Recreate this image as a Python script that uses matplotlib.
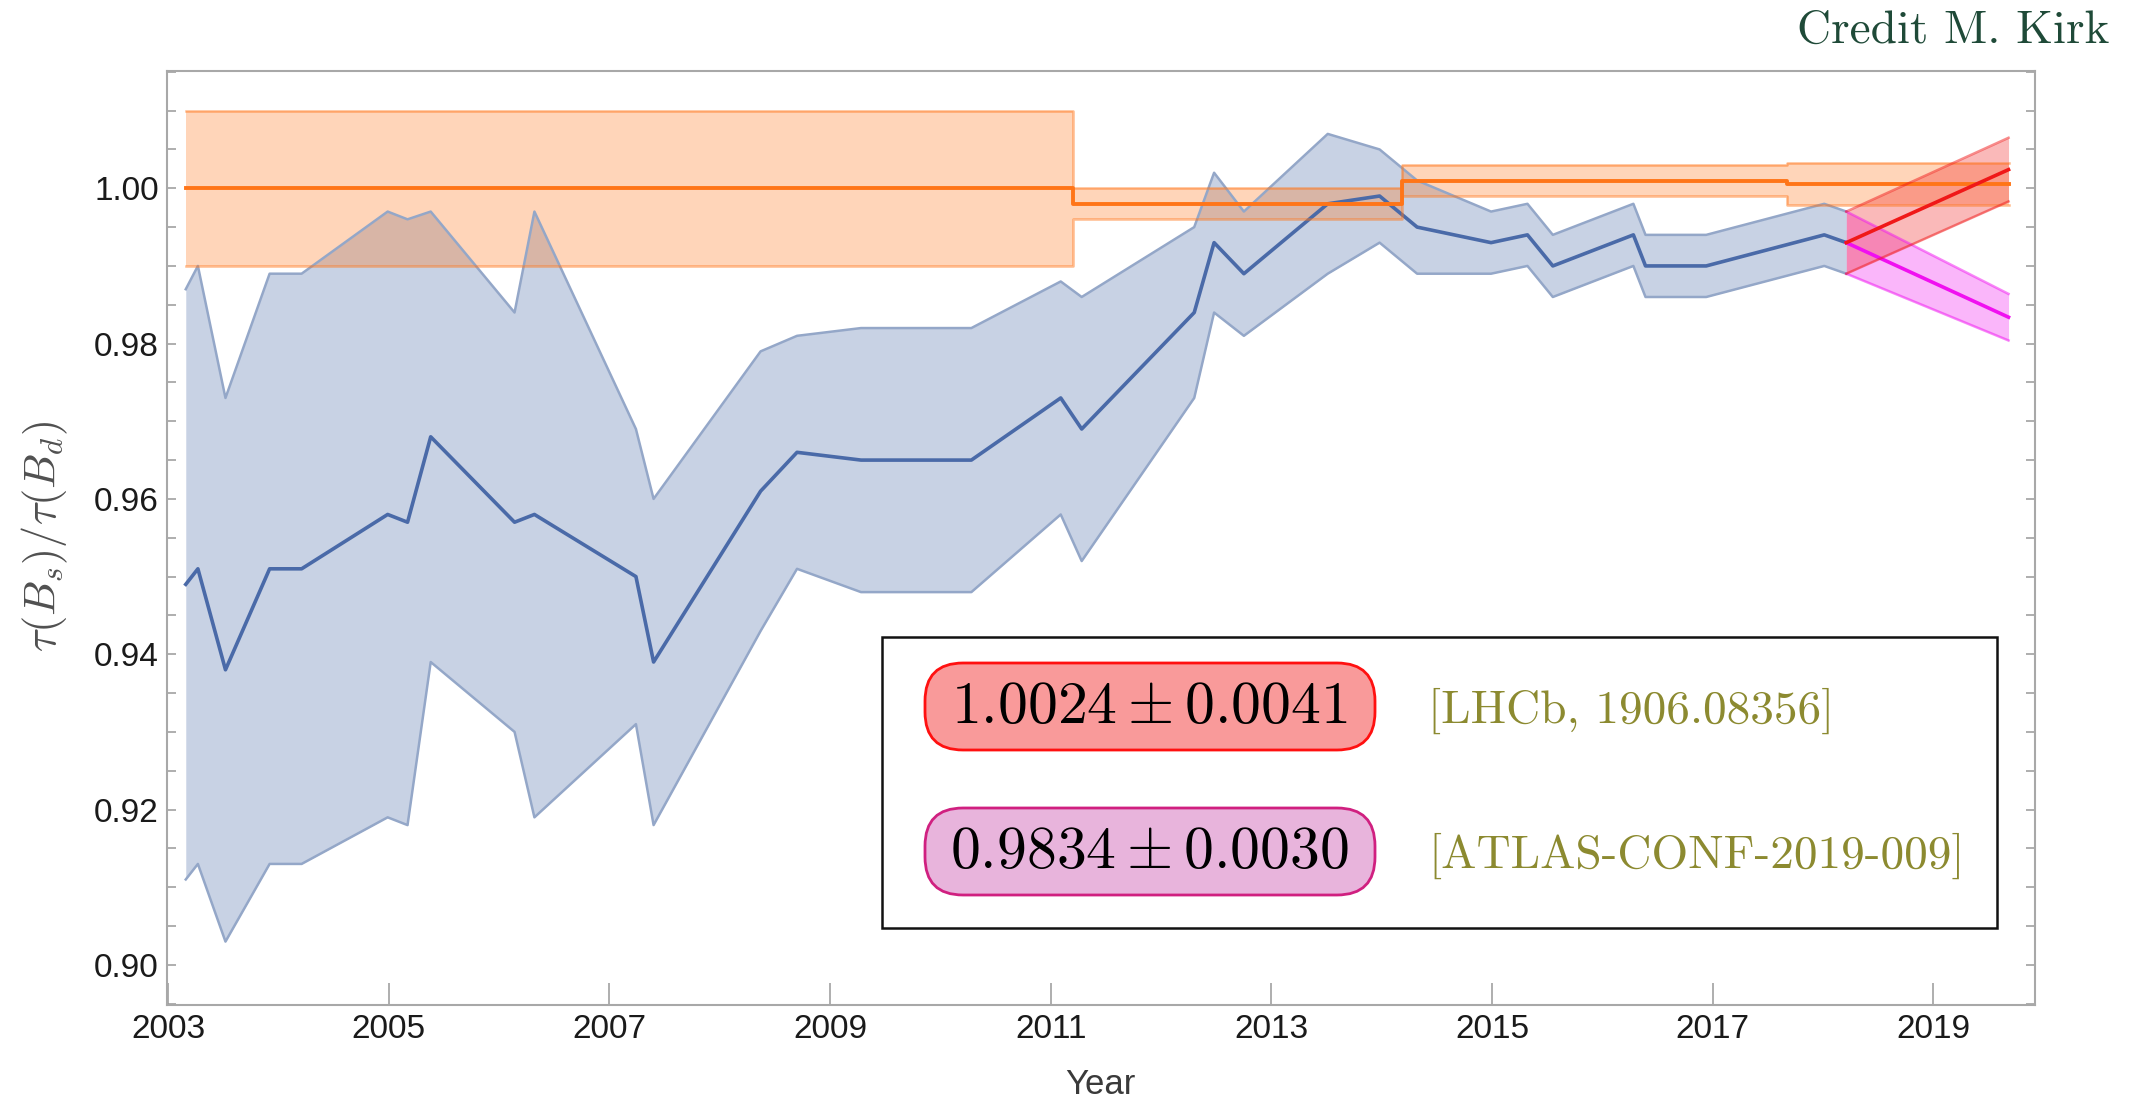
import matplotlib
matplotlib.use('Agg')
import matplotlib.pyplot as plt
from matplotlib.patches import FancyBboxPatch, Rectangle

plt.rcParams['mathtext.fontset'] = 'cm'
plt.rcParams['font.family'] = ['Liberation Sans', 'DejaVu Sans']

# world average of tau(Bs)/tau(Bd) through the years
years = [2003.16, 2003.27, 2003.52, 2003.92, 2004.21, 2004.99, 2005.17, 2005.38,
         2006.14, 2006.32, 2007.24, 2007.40, 2008.37, 2008.70, 2009.28, 2010.28,
         2011.09, 2011.28, 2012.30, 2012.48, 2012.75, 2013.51, 2013.98, 2014.32,
         2014.99, 2015.32, 2015.55, 2016.28, 2016.39, 2016.94, 2018.01, 2018.21]
ratio = [0.949, 0.951, 0.938, 0.951, 0.951, 0.958, 0.957, 0.968,
         0.957, 0.958, 0.950, 0.939, 0.961, 0.966, 0.965, 0.965,
         0.973, 0.969, 0.984, 0.993, 0.989, 0.998, 0.999, 0.995,
         0.993, 0.994, 0.990, 0.994, 0.990, 0.990, 0.994, 0.993]
ratio_lo = [0.911, 0.913, 0.903, 0.913, 0.913, 0.919, 0.918, 0.939,
            0.930, 0.919, 0.931, 0.918, 0.943, 0.951, 0.948, 0.948,
            0.958, 0.952, 0.973, 0.984, 0.981, 0.989, 0.993, 0.989,
            0.989, 0.990, 0.986, 0.990, 0.986, 0.986, 0.990, 0.989]
ratio_hi = [0.987, 0.990, 0.973, 0.989, 0.989, 0.997, 0.996, 0.997,
            0.984, 0.997, 0.969, 0.960, 0.979, 0.981, 0.982, 0.982,
            0.988, 0.986, 0.995, 1.002, 0.997, 1.007, 1.005, 1.001,
            0.997, 0.998, 0.994, 0.998, 0.994, 0.994, 0.998, 0.997]

# theory prediction, constant between updates
theory_edges = [2003.16, 2011.20, 2014.18, 2017.67, 2019.68]
theory_val = [1.000, 0.998, 1.001, 1.0005]
theory_err = [0.010, 0.002, 0.002, 0.0027]

# 2019 results
new_year = 2019.68
lhcb_val, lhcb_err = 1.0024, 0.0041
atlas_val, atlas_err = 0.9834, 0.0030
lhcb_ref = '[LHCb, 1906.08356]'
atlas_ref = '[ATLAS-CONF-2019-009]'

W, H = 2135, 1099
fig = plt.figure(figsize=(W / 100, H / 100), dpi=100)
ax = fig.add_axes([167 / W, 1 - 1004.5 / H, 1868 / W, 933.5 / H])

blue = '#4a6aa8'
orange = '#ff7518'
red = '#f01818'
magenta = '#f010f0'

# averages band
ax.fill_between(years, ratio_lo, ratio_hi, color=blue, alpha=0.3, lw=0)
ax.plot(years, ratio_lo, color='#94a7c8', lw=1.8)
ax.plot(years, ratio_hi, color='#94a7c8', lw=1.8)
ax.plot(years, ratio, color=blue, lw=2.6)

# theory steps
tv = theory_val + [theory_val[-1]]
te = theory_err + [theory_err[-1]]
t_lo = [v - e for v, e in zip(tv, te)]
t_hi = [v + e for v, e in zip(tv, te)]
ax.fill_between(theory_edges, t_lo, t_hi, step='post', color=orange, alpha=0.3, lw=0)
ax.step(theory_edges, t_lo, where='post', color=orange, alpha=0.5, lw=1.8)
ax.step(theory_edges, t_hi, where='post', color=orange, alpha=0.5, lw=1.8)
ax.step(theory_edges, tv, where='post', color=orange, lw=2.8)

# extrapolation to the new measurements
x_new = [years[-1], new_year]
for val, err, col in [(atlas_val, atlas_err, magenta), (lhcb_val, lhcb_err, red)]:
    lo = [ratio_lo[-1], val - err]
    hi = [ratio_hi[-1], val + err]
    ax.fill_between(x_new, lo, hi, color=col, alpha=0.3, lw=0)
    ax.plot(x_new, lo, color=col, alpha=0.5, lw=1.8)
    ax.plot(x_new, hi, color=col, alpha=0.5, lw=1.8)
    ax.plot(x_new, [ratio[-1], val], color=col, lw=2.6)

ax.set_xlim(2002.99, 2019.92)
ax.set_ylim(0.8949, 1.0151)
ax.set_xticks(range(2003, 2020, 2))
ax.set_yticks([0.90, 0.92, 0.94, 0.96, 0.98, 1.00])
ax.set_yticklabels(['0.90', '0.92', '0.94', '0.96', '0.98', '1.00'])
ax.set_yticks([0.895 + 0.005 * i for i in range(25)], minor=True)
ax.tick_params(axis='y', which='both', direction='in', length=6.5, width=1.1,
               color='#999999', left=True, right=True, labelsize=24,
               labelcolor='#1a1a1a', pad=6)
ax.tick_params(axis='x', which='both', direction='in', length=16, width=1.1,
               color='#999999', top=False, labelsize=24, labelcolor='#1a1a1a', pad=7)
for s in ax.spines.values():
    s.set_color('#a8a8a8')
    s.set_linewidth(1.5)

fig.text(45 / W, 1 - 536 / H, r'$\tau(B_s)/\tau(B_d)$', rotation=90, ha='center',
         va='center', fontsize=32, color='#505050')
fig.text(1100 / W, 1 - 1094 / H, 'Year', ha='center', va='baseline', fontsize=25,
         color='#3a3a3a')
fig.text(2109 / W, 1 - 43 / H, 'Credit M. Kirk', ha='right', va='baseline',
         fontsize=34, family='cmr10', color='#1f4a38')

# results box
inch = fig.dpi_scale_trans
def box_xy(x, y):
    return x / 100, (H - y) / 100

fig.add_artist(Rectangle(box_xy(882, 928), 11.15, 2.91, transform=inch,
                         fc='white', ec='#111111', lw=1.8, zorder=5))
for (val, err, ref, fc, ec, top) in [
        (lhcb_val, lhcb_err, lhcb_ref, '#f99a9a', '#ff1010', 663),
        (atlas_val, atlas_err, atlas_ref, '#e8b4dc', '#d02080', 808)]:
    fig.add_artist(FancyBboxPatch(box_xy(925, top + 87), 4.50, 0.87, transform=inch,
                                  boxstyle='round,pad=0,rounding_size=0.38',
                                  fc=fc, ec=ec, lw=2, zorder=6))
    fig.text(1149 / W, 1 - (top + 60) / H, r'$%.4f \pm %.4f$' % (val, err),
             ha='center', va='baseline', fontsize=43, color='black', zorder=7)
    fig.text(1428 / W, 1 - (top + 60) / H, ref, ha='left', va='baseline',
             fontsize=34, family='cmr10', color='#8c8a30', zorder=7)

fig.savefig('out.png', dpi=100)
